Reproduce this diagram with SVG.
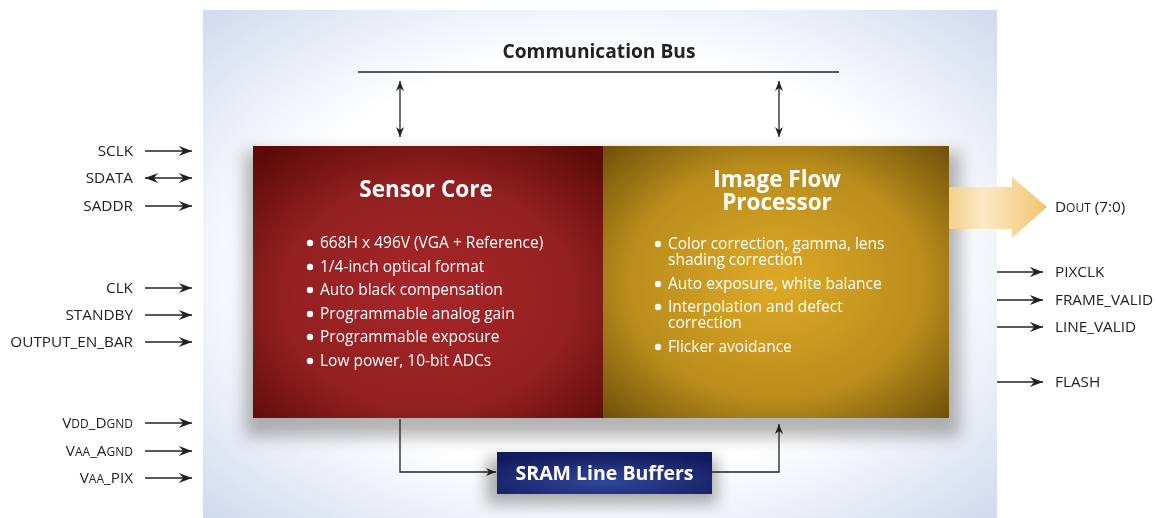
<svg xmlns="http://www.w3.org/2000/svg" width="1156" height="518" viewBox="0 0 1156 518">
<defs>
<radialGradient id="bg" cx="0.5" cy="0.5" r="0.75">
<stop offset="0.55" stop-color="#ffffff"/>
<stop offset="1" stop-color="#c9d5ec"/>
</radialGradient>
<radialGradient id="red" cx="0.5" cy="0.55" r="0.7">
<stop offset="0" stop-color="#a8262a"/>
<stop offset="0.6" stop-color="#922020"/>
<stop offset="1" stop-color="#5c0b08"/>
</radialGradient>
<radialGradient id="gold" cx="0.5" cy="0.5" r="0.72">
<stop offset="0" stop-color="#deaa26"/>
<stop offset="0.6" stop-color="#b98c1c"/>
<stop offset="1" stop-color="#6a4d07"/>
</radialGradient>
<radialGradient id="navy" cx="0.5" cy="0.7" r="0.7">
<stop offset="0" stop-color="#30479a"/>
<stop offset="1" stop-color="#121a5e"/>
</radialGradient>
<linearGradient id="dout" x1="0" y1="0" x2="1" y2="0">
<stop offset="0" stop-color="#f2c97a"/>
<stop offset="0.4" stop-color="#fbe9c6"/>
<stop offset="1" stop-color="#f2c56c"/>
</linearGradient>
<filter id="shadow" x="-20%" y="-20%" width="140%" height="140%">
<feGaussianBlur stdDeviation="8"/>
</filter>
<marker id="ah" viewBox="0 0 10 10" refX="10" refY="5" markerWidth="10" markerHeight="10" markerUnits="userSpaceOnUse" orient="auto-start-reverse">
<path d="M0,1 L10,5 L0,9 L3,5 Z" fill="#222"/>
</marker>
<marker id="ahb" viewBox="0 0 12 10" refX="12" refY="5" markerWidth="15" markerHeight="11" markerUnits="userSpaceOnUse" orient="auto-start-reverse">
<path d="M0,0.5 L12,5 L0,9.5 L4,5 Z" fill="#222"/>
</marker>
<style>
.lbl{font-family:"Open Sans","Liberation Sans",sans-serif;font-size:15.3px;fill:#222}
.sc{font-size:12px}
.bul{font-family:"Open Sans","Liberation Sans",sans-serif;font-size:15.5px;fill:#fff}
.ttl{font-family:"Open Sans","Liberation Sans",sans-serif;font-weight:bold;fill:#fff;text-anchor:middle}
.wire{stroke:#222;stroke-width:1.3;fill:none}
</style>
</defs>

<rect x="203" y="10" width="794" height="508" fill="url(#bg)"/>

<g id="shadows" opacity="0.55">
<rect x="245" y="152" width="715" height="285" fill="#777" filter="url(#shadow)"/>
<rect x="487" y="458" width="230" height="46" fill="#666" filter="url(#shadow)"/>
</g>

<g id="dout-bus">
<path d="M940,187 L1012,187 L1012,177 L1047,207 L1012,238 L1012,229 L940,229 Z" fill="url(#dout)"/>
</g>

<g id="sensor-core">
<rect x="253" y="146" width="350" height="272" fill="url(#red)"/>
<text class="ttl" x="426" y="197" font-size="22.5">Sensor Core</text>
<g class="bul">
<circle cx="310" cy="243" r="3.2" fill="#fff"/><text x="320" y="248">668H x 496V (VGA + Reference)</text>
<circle cx="310" cy="267" r="3.2" fill="#fff"/><text x="320" y="272">1/4-inch optical format</text>
<circle cx="310" cy="290" r="3.2" fill="#fff"/><text x="320" y="295">Auto black compensation</text>
<circle cx="310" cy="314" r="3.2" fill="#fff"/><text x="320" y="319">Programmable analog gain</text>
<circle cx="310" cy="337" r="3.2" fill="#fff"/><text x="320" y="342">Programmable exposure</text>
<circle cx="310" cy="361" r="3.2" fill="#fff"/><text x="320" y="366">Low power, 10-bit ADCs</text>
</g>
</g>

<g id="image-flow-processor">
<rect x="603" y="146" width="346" height="272" fill="url(#gold)"/>
<text class="ttl" x="777" y="187" font-size="22.5">Image Flow<tspan x="777" dy="23">Processor</tspan></text>
<g class="bul">
<circle cx="658" cy="244" r="3.2" fill="#fff"/><text x="668" y="249">Color correction, gamma, lens<tspan x="668" dy="16">shading correction</tspan></text>
<circle cx="658" cy="284" r="3.2" fill="#fff"/><text x="668" y="289">Auto exposure, white balance</text>
<circle cx="658" cy="307" r="3.2" fill="#fff"/><text x="668" y="312">Interpolation and defect<tspan x="668" dy="16">correction</tspan></text>
<circle cx="658" cy="347" r="3.2" fill="#fff"/><text x="668" y="352">Flicker avoidance</text>
</g>
</g>

<g id="sram-line-buffers">
<rect x="497" y="452" width="215" height="42" fill="url(#navy)"/>
<text class="ttl" x="604.5" y="480" font-size="19.5">SRAM Line Buffers</text>
</g>

<g id="communication-bus">
<text x="599" y="58" font-family="Open Sans, Liberation Sans, sans-serif" font-weight="bold" font-size="19.2" fill="#222" text-anchor="middle">Communication Bus</text>
<line x1="358" y1="72" x2="839" y2="72" stroke="#222" stroke-width="1.3"/>
</g>

<g id="connectors">
<line class="wire" x1="400" y1="81" x2="400" y2="137" marker-start="url(#ah)" marker-end="url(#ah)"/>
<line class="wire" x1="779" y1="81" x2="779" y2="137" marker-start="url(#ah)" marker-end="url(#ah)"/>
<polyline class="wire" points="400,419 400,472 496,472" marker-end="url(#ah)"/>
<polyline class="wire" points="712,472 779,472 779,424" marker-end="url(#ah)"/>

<g id="left-signals">
<line class="wire" x1="145" y1="151" x2="192" y2="151" marker-end="url(#ahb)"/>
<line class="wire" x1="145" y1="178" x2="192" y2="178" marker-start="url(#ahb)" marker-end="url(#ahb)"/>
<line class="wire" x1="145" y1="206" x2="192" y2="206" marker-end="url(#ahb)"/>
<line class="wire" x1="145" y1="288" x2="192" y2="288" marker-end="url(#ahb)"/>
<line class="wire" x1="145" y1="315" x2="192" y2="315" marker-end="url(#ahb)"/>
<line class="wire" x1="145" y1="342" x2="192" y2="342" marker-end="url(#ahb)"/>
<line class="wire" x1="145" y1="423" x2="192" y2="423" marker-end="url(#ahb)"/>
<line class="wire" x1="145" y1="451" x2="192" y2="451" marker-end="url(#ahb)"/>
<line class="wire" x1="145" y1="478" x2="192" y2="478" marker-end="url(#ahb)"/>
</g>
<g id="right-signals">
<line class="wire" x1="997" y1="272" x2="1043" y2="272" marker-end="url(#ahb)"/>
<line class="wire" x1="997" y1="300" x2="1043" y2="300" marker-end="url(#ahb)"/>
<line class="wire" x1="997" y1="327" x2="1043" y2="327" marker-end="url(#ahb)"/>
<line class="wire" x1="997" y1="382" x2="1043" y2="382" marker-end="url(#ahb)"/>
</g>
</g>

<g id="left-labels" text-anchor="end">
<text class="lbl" x="133" y="156">SCLK</text>
<text class="lbl" x="133" y="183">SDATA</text>
<text class="lbl" x="133" y="211">SADDR</text>
<text class="lbl" x="133" y="293">CLK</text>
<text class="lbl" x="133" y="320">STANDBY</text>
<text class="lbl" x="133" y="347">OUTPUT_EN_BAR</text>
<text class="lbl" x="133" y="428">V<tspan class="sc">DD</tspan>_D<tspan class="sc">GND</tspan></text>
<text class="lbl" x="133" y="456">V<tspan class="sc">AA</tspan>_A<tspan class="sc">GND</tspan></text>
<text class="lbl" x="133" y="483">V<tspan class="sc">AA</tspan>_PIX</text>
</g>

<g id="right-labels">
<text class="lbl" x="1055" y="212">D<tspan class="sc">OUT</tspan> (7:0)</text>
<text class="lbl" x="1055" y="277">PIXCLK</text>
<text class="lbl" x="1055" y="305">FRAME_VALID</text>
<text class="lbl" x="1055" y="332">LINE_VALID</text>
<text class="lbl" x="1055" y="387">FLASH</text>
</g>
</svg>
